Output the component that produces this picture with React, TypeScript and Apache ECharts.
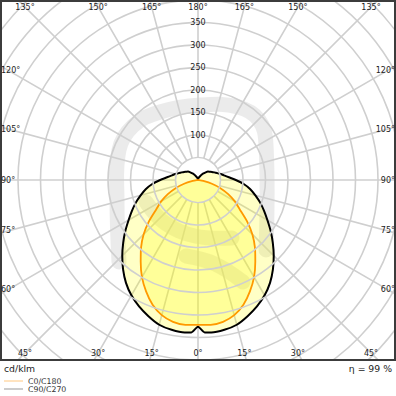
import React, { useEffect, useRef } from 'react';
import * as echarts from 'echarts';

// ---- data (cd/klm) ----
const gammaC0 = [0, 5, 10, 15, 20, 25, 30, 35, 40, 45, 50, 55, 60, 65, 70, 75, 80, 85, 90, 95, 100, 110, 120, 130, 140, 150, 160, 170, 180];
const intensityC0 = [322, 323, 320, 311, 295, 273, 249, 222, 197, 171, 142, 113, 94, 74, 53, 32, 12, 2, 0, 0, 0, 0, 0, 0, 0, 0, 0, 0, 0];

const gammaC90 = [0, 2.5, 5, 10, 15, 20, 25, 30, 35, 40, 45, 50, 55, 60, 65, 70, 75, 80, 85, 90, 95, 100, 105, 110, 115, 120, 125, 130, 135, 140, 145, 150, 155, 160, 165, 170, 175, 180];
const intensityC90 = [326, 339, 340, 338, 333, 322, 310, 296, 279, 259, 238, 217, 197, 178, 162, 147, 132, 118, 102, 84, 69, 59, 52, 45, 40, 36, 32, 29, 24, 19, 15, 11, 8, 6, 4, 2, 1, 0];

const seriesNames = ['C0/C180', 'C90/C270'];
const radiusLabels = [100, 150, 200, 250, 300, 350];
const angleTicks = [0, 15, 30, 45, 60, 75, 90, 105, 120, 135, 150, 165, 180];
const unitLabel = 'cd/klm';
const efficiencyLabel = 'η = 99 %';

// ---- layout ----
const CX = 198;
const CY = 180;
const R_MAX = 600;
const R_PX = 270; // 0.45 px per cd/klm
const R_INNER_VAL = 50;
const FONT = 'DejaVu Sans';
const ANGLE_FS = 8;

function toPolarData(gammas: number[], values: number[]) {
  const pts: number[][] = [];
  for (let i = gammas.length - 1; i >= 0; i--) pts.push([values[i], 180 - gammas[i]]);
  for (let i = 1; i < gammas.length; i++) pts.push([values[i], 180 + gammas[i]]);
  return pts;
}

function angleLabelPos(g: number, side: number, text: string) {
  const HX = 190;
  const HY = 173;
  const dx = side * Math.sin((g * Math.PI) / 180);
  const dy = Math.cos((g * Math.PI) / 180);
  const tx = Math.abs(dx) > 1e-9 ? HX / Math.abs(dx) : Infinity;
  const ty = Math.abs(dy) > 1e-9 ? HY / Math.abs(dy) : Infinity;
  const t = Math.min(tx, ty);
  let x = CX + t * dx;
  const y = CY + t * dy;
  const half = ((text.length - 1) * 0.636 + 0.5) * ANGLE_FS / 2 + 1;
  x = Math.max(half, Math.min(396 - half, x));
  return [x, y];
}

function buildOption() {
  const gridLine = { color: '#cfcfcf', width: 1.6 };
  const angleLabels: any[] = [];
  angleTicks.forEach((g) => {
    const sides = g === 0 || g === 180 ? [1] : [-1, 1];
    sides.forEach((s) => {
      const text = g + '°';
      const [x, y] = angleLabelPos(g, s, text);
      angleLabels.push({
        type: 'text',
        x,
        y,
        z: 102,
        style: { text, fill: '#222', fontSize: ANGLE_FS, fontFamily: FONT, align: 'center', verticalAlign: 'middle' },
      });
    });
  });

  const wm = { stroke: 'rgba(0,0,0,0.08)', lineWidth: 15, lineCap: 'round', lineJoin: 'round', fill: null };

  return {
    animation: false,
    backgroundColor: '#ffffff',
    polar: [
      { center: [CX, CY], radius: R_PX },
      { center: [CX, CY], radius: [R_INNER_VAL * (R_PX / R_MAX), R_PX] },
    ],
    angleAxis: [
      {
        polarIndex: 0, type: 'value', min: 0, max: 360, interval: 15, startAngle: 90, clockwise: true,
        axisLine: { show: false }, axisTick: { show: false }, axisLabel: { show: false }, splitLine: { show: false },
      },
      {
        polarIndex: 1, type: 'value', min: 0, max: 360, interval: 15, startAngle: 90, clockwise: true,
        axisLine: { show: false }, axisTick: { show: false }, axisLabel: { show: false },
        splitLine: { show: true, lineStyle: gridLine },
      },
    ],
    radiusAxis: [
      {
        polarIndex: 0, type: 'value', min: 0, max: R_MAX, interval: 50,
        axisLine: { show: false }, axisTick: { show: false },
        splitLine: { show: true, lineStyle: gridLine },
        axisLabel: {
          formatter: (v: number) => (radiusLabels.indexOf(v) >= 0 ? String(v) : ''),
          align: 'center', verticalAlign: 'middle', margin: 0,
          fontSize: 8, fontFamily: FONT, color: '#222',
        },
        z: 5,
      },
      {
        polarIndex: 1, type: 'value', min: R_INNER_VAL, max: R_MAX, interval: 50,
        axisLine: { show: false }, axisTick: { show: false }, axisLabel: { show: false }, splitLine: { show: false },
      },
    ],
    series: [
      {
        name: seriesNames[1], type: 'line', coordinateSystem: 'polar', polarIndex: 0,
        data: toPolarData(gammaC90, intensityC90), showSymbol: false, smooth: 0.2,
        lineStyle: { color: '#000', width: 2 },
        areaStyle: { color: 'rgba(255,255,0,0.32)' },
        z: 3,
      },
      {
        name: seriesNames[0], type: 'line', coordinateSystem: 'polar', polarIndex: 0,
        data: toPolarData(gammaC0, intensityC0), showSymbol: false, smooth: 0.2,
        lineStyle: { color: '#ff9900', width: 1.8 },
        areaStyle: { color: 'rgba(255,255,0,0.32)' },
        z: 4,
      },
    ],
    graphic: {
      elements: [
        { type: 'polyline', z: -5, shape: { points: [[119, 262], [117, 200], [119, 150], [133, 126], [160, 112], [200, 105], [238, 107], [259, 120], [266, 145], [266, 250]], smooth: 0.4 }, style: wm },
        { type: 'polyline', z: -5, shape: { points: [[146, 202], [165, 223], [195, 236], [232, 238]], smooth: 0.4 }, style: wm },
        { type: 'polyline', z: -5, shape: { points: [[186, 256], [215, 264], [243, 282]], smooth: 0.4 }, style: wm },
        { type: 'rect', z: 100, shape: { x: 0, y: 361, width: 396, height: 40 }, style: { fill: '#ffffff' } },
        { type: 'rect', z: 101, shape: { x: 1, y: 1, width: 394, height: 359 }, style: { fill: null, stroke: '#3c3c3c', lineWidth: 2 } },
        ...angleLabels,
        { type: 'text', z: 102, x: 4, y: 368, style: { text: unitLabel, fill: '#222', fontSize: 9.3, fontFamily: FONT, align: 'left', verticalAlign: 'middle' } },
        { type: 'text', z: 102, x: 392, y: 368, style: { text: efficiencyLabel, fill: '#222', fontSize: 9.3, fontFamily: FONT, align: 'right', verticalAlign: 'middle' } },
        { type: 'line', z: 102, shape: { x1: 4, y1: 381, x2: 23, y2: 381 }, style: { stroke: '#ffc880', lineWidth: 1 } },
        { type: 'text', z: 102, x: 28, y: 381, style: { text: seriesNames[0], fill: '#333', fontSize: 7.8, fontFamily: FONT, align: 'left', verticalAlign: 'middle' } },
        { type: 'line', z: 102, shape: { x1: 4, y1: 389, x2: 23, y2: 389 }, style: { stroke: '#999999', lineWidth: 1 } },
        { type: 'text', z: 102, x: 28, y: 389, style: { text: seriesNames[1], fill: '#333', fontSize: 7.8, fontFamily: FONT, align: 'left', verticalAlign: 'middle' } },
      ],
    },
  };
}

export default function App() {
  const ref = useRef<HTMLDivElement>(null);
  useEffect(() => {
    if (!ref.current) return;
    const chart = echarts.init(ref.current, null, { renderer: 'svg' });
    chart.setOption(buildOption() as any);
    return () => chart.dispose();
  }, []);
  return <div ref={ref} style={{ position: 'absolute', left: 0, top: 0, width: 396, height: 396 }} />;
}
